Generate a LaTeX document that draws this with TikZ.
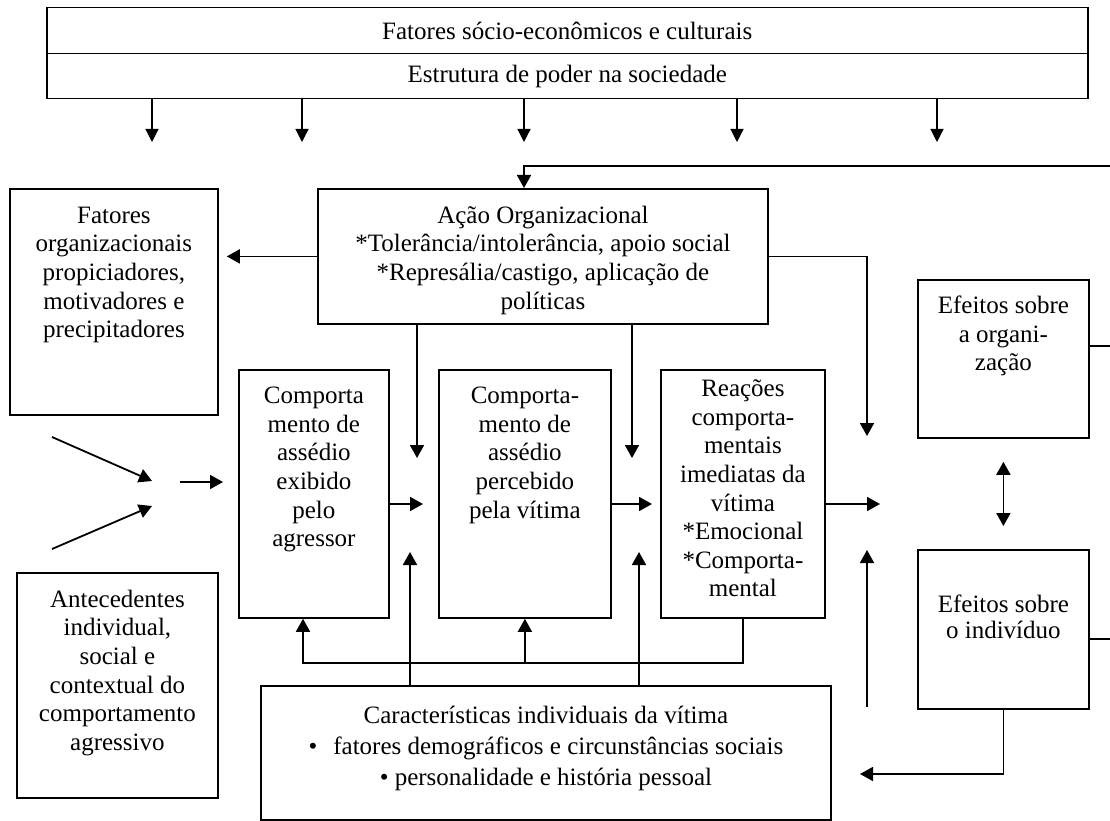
\documentclass[tikz,border=0pt]{standalone}
\usepackage{fontspec}
\setmainfont{Liberation Serif}
\usepackage{tikz}
\usetikzlibrary{positioning,arrows.meta}
\newcommand{\bodyfont}{\fontsize{25}{28.6}\selectfont}
\tikzset{
box/.style={draw, line width=1.8pt, inner sep=0pt, anchor=north west},
txt/.style={inner sep=0pt, align=center, font=\bodyfont},
plain/.style={line width=1.8pt},
arr/.style={line width=1.8pt, -{Triangle[length=13pt,width=14pt]}},
arrtop/.style={line width=1.2pt, -{Triangle[length=13pt,width=13pt]}},
arrboth/.style={line width=1.8pt, {Triangle[length=13pt,width=14pt]}-{Triangle[length=13pt,width=14pt]}}
}

\begin{document}
\begin{tikzpicture}[x=1pt,y=-1pt]
\useasboundingbox (0,0) rectangle (1110,821);
%Top boxes
\node[box, txt, line width=1.5pt, minimum width=1041pt, minimum height=46pt] (socio) at (46,7) {Fatores sócio-econômicos e culturais};
\node[box, txt, line width=1.5pt, minimum width=1041pt, minimum height=45pt] (poder) at (46,53) {Estrutura de poder na sociedade};
%Boxes
\node[box, minimum width=208pt, minimum height=226pt] (fat) at (9,188) {};
\node[box, minimum width=450pt, minimum height=135pt] (acao) at (317,188) {};
\node[box, minimum width=201pt, minimum height=225pt] (ante) at (16,572) {};
\node[box, minimum width=150pt, minimum height=248pt] (exib) at (238,369) {};
\node[box, minimum width=172pt, minimum height=248pt] (perc) at (438,369) {};
\node[box, minimum width=164pt, minimum height=248pt] (reac) at (660,369) {};
\node[box, minimum width=570pt, minimum height=134pt] (carac) at (260,685) {};
\node[box, minimum width=171pt, minimum height=158pt] (eorg) at (917,279) {};
\node[box, minimum width=171pt, minimum height=159pt] (eind) at (917,549) {};

% Text Nodes
\node[txt, below=15pt of fat.north] (fattxt) {\strut Fatores\\organizacionais\\propiciadores,\\motivadores e\\precipitadores};
\node[txt, below=15pt of acao.north] (acaotxt) {\strut Ação Organizacional\\*Tolerância/intolerância, apoio social\\*Represália/castigo, aplicação de\\políticas};
\node[txt, below=15pt of ante.north] (antetxt) {\strut Antecedentes\\individual,\\social e\\contextual do\\comportamento\\agressivo};
\node[txt, below=14.5pt of exib.north] (exibtxt) {\strut Comporta\\mento de\\assédio\\exibido\\pelo\\agressor};
\node[txt, below=14.5pt of perc.north] (perctxt) {\strut Comporta-\\mento de\\assédio\\percebido\\pela vítima};
\node[txt, below=7.5pt of reac.north] (reactxt) {\strut Reações\\comporta-\\mentais\\imediatas da\\vítima\\*Emocional\\*Comporta-\\mental};
\node[txt, below=14.5pt of eorg.north] (eorgtxt) {\strut Efeitos sobre\\a organi-\\zação};
\node[txt, font=\fontsize{25}{24}\selectfont, below=46pt of eind.north] (eindtxt) {\strut Efeitos sobre\\o indivíduo};
\node[txt, font=\fontsize{25}{31}\selectfont, below=16.8pt of carac.north] (caractxt) {\strut Características individuais da vítima\\\textbullet\hspace{16pt}fatores demográficos e circunstâncias sociais\\\textbullet\ personalidade e história pessoal};

%Arrows from the top
\foreach \x [count=\i] in {152,302,524,737,937} {
  \coordinate (dn\i) at (\x,142);
  \draw[arrtop] (dn\i |- poder.south) -- (dn\i);
}
%Return line at the top
\coordinate (redge) at (1110,166);
\coordinate (acaoin) at (524,188);
\draw[arr] (redge) -| (acaoin |- acao.north);
%Acao organizacional
\draw[arr, shorten >=8pt] (acao.west) -- (fat.east |- acao.west);
\coordinate (d1) at (417,458);
\coordinate (d2) at (632,458);
\coordinate (d3) at (867,436);
\draw[arr] (d1 |- acao.south) -- (d1);
\draw[arr] (d2 |- acao.south) -- (d2);
\draw[arr] (acao.east) -| (d3);
%Converging arrows
\coordinate (c1) at (52,437);
\coordinate (c2) at (152,481);
\coordinate (c3) at (52,549);
\coordinate (c4) at (152,506);
\coordinate (c5) at (180,482);
\coordinate (c6) at (223,482);
\draw[arr] (c1) -- (c2);
\draw[arr] (c3) -- (c4);
\draw[arr] (c5) -- (c6);
%Between the boxes
\coordinate (h1) at (423,504);
\coordinate (h2) at (652,504);
\coordinate (h3) at (880,504);
\draw[arr] (exib.east |- h1) -- (h1);
\draw[arr] (perc.east |- h2) -- (h2);
\draw[arr] (reac.east |- h3) -- (h3);
%From the victim
\coordinate (u1) at (410,552);
\coordinate (u2) at (639,552);
\draw[arr] (u1 |- carac.north) -- (u1);
\draw[arr] (u2 |- carac.north) -- (u2);
%Feedback below
\coordinate (fbl) at (303,663);
\draw[arr] (reac.south) |- (fbl) -- (fbl |- exib.south);
\draw[arr] (perc.south |- fbl) -- (perc.south);
\coordinate (v1) at (867,707);
\coordinate (v2) at (867,550);
\draw[arr] (v1) -- (v2);
%Effects
\draw[arrboth, shorten <=23pt, shorten >=23pt] (eorg.south) -- (eind.north);
\coordinate (s1) at (1110,346);
\coordinate (s2) at (1110,639);
\draw[plain] (eorg.east |- s1) -- (s1);
\draw[plain] (eind.east |- s2) -- (s2);
\coordinate (b1) at (860,774);
\draw[arr] (eind.south) |- (b1);
\end{tikzpicture}
\end{document}
